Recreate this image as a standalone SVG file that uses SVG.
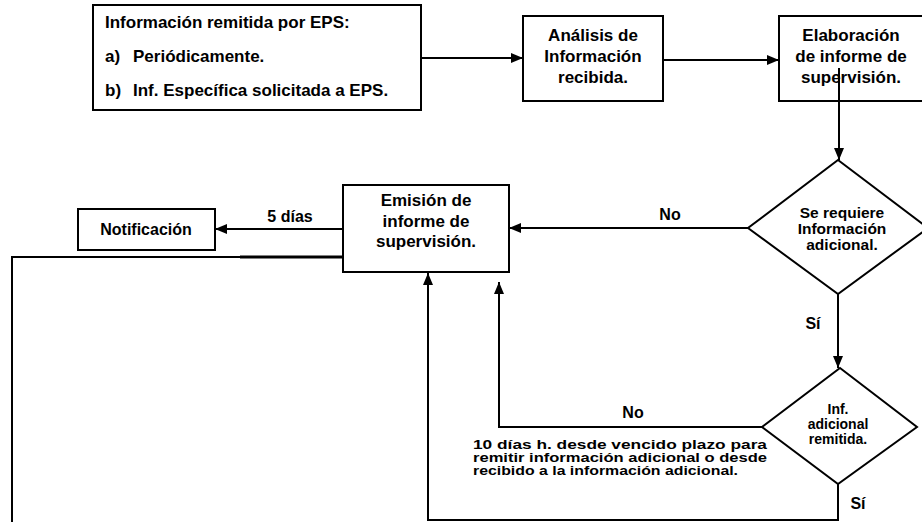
<svg xmlns="http://www.w3.org/2000/svg" width="922" height="522" viewBox="0 0 922 522">
<defs>
<style>
.box{fill:#fff;stroke:#000;stroke-width:2}
.ln{fill:none;stroke:#000;stroke-width:2}
.t{font-family:"Liberation Sans",Arial,sans-serif;font-weight:bold;font-size:17px;fill:#000;text-anchor:middle}
.tl{font-family:"Liberation Sans",Arial,sans-serif;font-weight:bold;font-size:16px;fill:#000}
.b1{font-family:"Liberation Sans",Arial,sans-serif;font-weight:bold;font-size:17px;fill:#000}
.d1{font-family:"Liberation Sans",Arial,sans-serif;font-weight:bold;font-size:15.5px;fill:#000;text-anchor:middle}
.s{font-family:"Liberation Sans",Arial,sans-serif;font-weight:bold;font-size:14px;fill:#000;text-anchor:middle}
.n{font-family:"Liberation Sans",Arial,sans-serif;font-weight:bold;font-size:12px;fill:#000}
</style>
<marker id="ah" markerWidth="12" markerHeight="10" refX="12" refY="5" orient="auto" markerUnits="userSpaceOnUse">
<path d="M0,0 L12,5 L0,10 Z" fill="#000"/>
</marker>
</defs>
<rect width="922" height="522" fill="#fff"/>

<g id="connectors">
<line class="ln" x1="421" y1="58" x2="523" y2="58" marker-end="url(#ah)"/>
<line class="ln" x1="663" y1="60" x2="779" y2="60" marker-end="url(#ah)"/>
<line class="ln" x1="839" y1="68" x2="839" y2="160" marker-end="url(#ah)"/>
<line class="ln" x1="748" y1="228" x2="509" y2="228" marker-end="url(#ah)"/>
<text class="tl" x="670" y="220" text-anchor="middle">No</text>
<line class="ln" x1="838" y1="294" x2="838" y2="368" marker-end="url(#ah)"/>
<text class="tl" x="813" y="329" text-anchor="middle">Sí</text>
<line class="ln" x1="343" y1="229" x2="215" y2="229" marker-end="url(#ah)"/>
<text class="tl" x="290" y="222" text-anchor="middle">5 días</text>
<polyline class="ln" points="343,257 12,257 12,522"/>
<line x1="240" y1="257" x2="343" y2="257" stroke="#000" stroke-width="3"/>
<polyline class="ln" points="762,427 499,427 499,282" marker-end="url(#ah)"/>
<text class="tl" x="633" y="418" text-anchor="middle">No</text>
<polyline class="ln" points="838,484 838,520 428,520 428,273" marker-end="url(#ah)"/>
<text class="tl" x="858" y="509" text-anchor="middle">Sí</text>
<text class="n" x="473" y="449" textLength="294" lengthAdjust="spacingAndGlyphs">10 días h. desde vencido plazo para</text>
<text class="n" x="473" y="462" textLength="294" lengthAdjust="spacingAndGlyphs">remitir información adicional o desde</text>
<text class="n" x="473" y="475" textLength="265" lengthAdjust="spacingAndGlyphs">recibido a la información adicional.</text>
</g>

<g id="info-remitida">
<rect class="box" x="93" y="5" width="328" height="105"/>
<text class="b1" x="105" y="28">Información remitida por EPS:</text>
<text class="b1" x="105" y="62">a)</text>
<text class="b1" x="133" y="62">Periódicamente.</text>
<text class="b1" x="105" y="96">b)</text>
<text class="b1" x="133" y="96">Inf. Específica solicitada a EPS.</text>
</g>

<g id="analisis">
<rect class="box" x="523" y="16" width="140" height="85"/>
<text class="t" x="593" y="41">Análisis de</text>
<text class="t" x="593" y="62">Información</text>
<text class="t" x="593" y="83">recibida.</text>
</g>

<g id="elaboracion">
<rect class="box" x="779" y="16" width="146" height="85"/>
<text class="t" x="851" y="41">Elaboración</text>
<text class="t" x="851" y="62">de informe de</text>
<text class="t" x="851" y="83">supervisión.</text>
</g>
<line class="ln" x1="839" y1="68" x2="839" y2="101"/>

<g id="requiere">
<polygon class="box" points="838,160 928,228 838,294 748,228"/>
<text class="d1" x="842" y="218">Se requiere</text>
<text class="d1" x="842" y="234">Información</text>
<text class="d1" x="842" y="250">adicional.</text>
</g>

<g id="emision">
<rect class="box" x="343" y="185" width="166" height="87"/>
<text class="t" x="426" y="206">Emisión de</text>
<text class="t" x="426" y="227">informe de</text>
<text class="t" x="426" y="247">supervisión.</text>
</g>

<g id="notificacion">
<rect class="box" x="78" y="209" width="137" height="41"/>
<text class="t" x="146" y="235" style="font-size:16px">Notificación</text>
</g>

<g id="remitida">
<polygon class="box" points="840,368 917,427 838,484 762,427"/>
<text class="s" x="838" y="414">Inf.</text>
<text class="s" x="838" y="429">adicional</text>
<text class="s" x="838" y="444">remitida.</text>
</g>
</svg>
